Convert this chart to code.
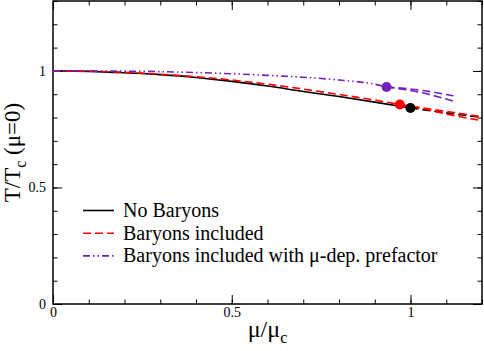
<!DOCTYPE html>
<html>
<head>
<meta charset="utf-8">
<script src="https://cdn.jsdelivr.net/npm/d3@7"></script>
<style>
  body { margin: 0; background: #fff; }
</style>
</head>
<body>
<svg id="chart" width="484" height="351"></svg>
<script>
// curve values: [mu/mu_c, T/T_c(mu=0)]
const noBaryons = [[0, 1.0], [0.1, 0.998], [0.2, 0.992], [0.3, 0.984], [0.4, 0.972], [0.5, 0.955],
  [0.6, 0.935], [0.7, 0.912], [0.8, 0.89], [0.9, 0.866], [1.0, 0.841]];
const noBaryonsTail = [[1.0, 0.841], [1.1, 0.82], [1.2, 0.80]];

const baryons = [[0, 1.0], [0.1, 0.999], [0.2, 0.994], [0.3, 0.986], [0.4, 0.975], [0.5, 0.961],
  [0.6, 0.943], [0.7, 0.922], [0.8, 0.899], [0.9, 0.875], [0.97, 0.856]];
const baryonsTailUpper = [[0.97, 0.856], [1.1, 0.826], [1.2, 0.803]];
const baryonsTailLower = [[0.97, 0.856], [1.03, 0.84], [1.1, 0.815], [1.2, 0.787]];

const prefactor = [[0, 1.0], [0.1, 1.0], [0.2, 0.999], [0.3, 0.997], [0.4, 0.993], [0.5, 0.988],
  [0.6, 0.981], [0.7, 0.973], [0.8, 0.961], [0.9, 0.943], [0.933, 0.931]];
const prefactorTailUpper = [[0.933, 0.931], [1.03, 0.917], [1.12, 0.893]];
const prefactorTailLower = [[0.933, 0.931], [1.03, 0.907], [1.12, 0.870]];

const endPoints = [
  { mu: 1.0, t: 0.841, color: "#000000" },
  { mu: 0.97, t: 0.856, color: "#ff0000" },
  { mu: 0.933, t: 0.931, color: "#7221bc" }
];

const legendLabels = ["No Baryons", "Baryons included", "Baryons included with \u03bc-dep. prefactor"];
const xTicks = [0, 0.5, 1];
const yTicks = [0, 0.5, 1];

const d3s = window.d3;
const serif = '"Liberation Serif", "Times New Roman", serif';
const margin = { top: 1, right: 2, bottom: 47, left: 53 },
  width = 484, height = 351;

const x = d3s.scaleLinear().domain([0, 1.2]).range([margin.left, width - margin.right]);
const y = d3s.scaleLinear().domain([0, 1.3]).range([height - margin.bottom, margin.top]);

const svg = d3s.select("#chart");
const fmt = d => d === 0.5 ? "0.5" : d3s.format("d")(d);
const minorX = d3s.range(0, 1.21, 0.1), minorY = d3s.range(0, 1.31, 0.1);

function styleAxis(g) {
  g.attr("font-family", null).attr("font-size", null);
  g.select(".domain").remove();
  g.selectAll("line").attr("stroke", "#000").attr("stroke-width", 1);
  g.selectAll("text").style("font-family", serif).style("font-size", "14px").attr("fill", "#000");
}

// bottom / top
svg.append("g").attr("transform", `translate(0,${y(0)})`)
  .call(d3s.axisBottom(x).tickValues(minorX).tickSize(-4.5).tickFormat(""))
  .call(styleAxis);
svg.append("g").attr("transform", `translate(0,${y(0)})`)
  .call(d3s.axisBottom(x).tickValues(xTicks).tickSize(-9).tickPadding(3).tickFormat(fmt))
  .call(styleAxis);
svg.append("g").attr("transform", `translate(0,${y(1.3)})`)
  .call(d3s.axisTop(x).tickValues(minorX).tickSize(-4.5).tickFormat(""))
  .call(styleAxis);
svg.append("g").attr("transform", `translate(0,${y(1.3)})`)
  .call(d3s.axisTop(x).tickValues(xTicks).tickSize(-9).tickFormat(""))
  .call(styleAxis);
// left / right
svg.append("g").attr("transform", `translate(${x(0)},0)`)
  .call(d3s.axisLeft(y).tickValues(minorY).tickSize(-4.5).tickFormat(""))
  .call(styleAxis);
svg.append("g").attr("transform", `translate(${x(0)},0)`)
  .call(d3s.axisLeft(y).tickValues(yTicks).tickSize(-9).tickPadding(7).tickFormat(fmt))
  .call(styleAxis);
svg.append("g").attr("transform", `translate(${x(1.2)},0)`)
  .call(d3s.axisRight(y).tickValues(minorY).tickSize(-4.5).tickFormat(""))
  .call(styleAxis);
svg.append("g").attr("transform", `translate(${x(1.2)},0)`)
  .call(d3s.axisRight(y).tickValues(yTicks).tickSize(-9).tickFormat(""))
  .call(styleAxis);

svg.append("rect")
  .attr("x", x(0)).attr("y", y(1.3))
  .attr("width", x(1.2) - x(0)).attr("height", y(0) - y(1.3))
  .attr("fill", "none").attr("stroke", "#000").attr("stroke-width", 1.5);

const line = d3s.line().x(d => x(d[0])).y(d => y(d[1])).curve(d3s.curveMonotoneX);

const dash = "8,4", dashDot = "7,3,1.5,3,1.5,3";
const curves = [
  { data: noBaryons, color: "#000", dash: null },
  { data: noBaryonsTail, color: "#000", dash: dash },
  { data: baryons, color: "#ff0000", dash: dash },
  { data: baryonsTailUpper, color: "#ff0000", dash: dash },
  { data: baryonsTailLower, color: "#ff0000", dash: dash },
  { data: prefactor, color: "#7221bc", dash: dashDot },
  { data: prefactorTailUpper, color: "#7221bc", dash: dash },
  { data: prefactorTailLower, color: "#7221bc", dash: dash }
];

svg.append("g").selectAll("path").data(curves).join("path")
  .attr("d", d => line(d.data))
  .attr("fill", "none")
  .attr("stroke", d => d.color)
  .attr("stroke-width", 1.6)
  .attr("stroke-dasharray", d => d.dash);

svg.append("g").selectAll("circle").data(endPoints).join("circle")
  .attr("cx", d => x(d.mu)).attr("cy", d => y(d.t))
  .attr("r", 5).attr("fill", d => d.color);

// legend
const legend = svg.append("g");
const legendStyles = [
  { color: "#000", dash: null },
  { color: "#ff0000", dash: dash },
  { color: "#7221bc", dash: dashDot }
];
legendLabels.forEach((label, i) => {
  const ly = 210.5 + i * 22.7;
  legend.append("line")
    .attr("x1", 83).attr("x2", 114).attr("y1", ly).attr("y2", ly)
    .attr("stroke", legendStyles[i].color).attr("stroke-width", 1.6)
    .attr("stroke-dasharray", legendStyles[i].dash);
  legend.append("text")
    .attr("x", 123).attr("y", ly + 6.5)
    .style("font-family", serif)
    .style("font-size", "20px")
    .text(label);
});

// axis titles
const xt = svg.append("text")
  .attr("x", x(0.6)).attr("y", 337)
  .attr("text-anchor", "middle")
  .style("font-family", serif)
  .style("font-size", "24px");
xt.append("tspan").text("\u03bc/\u03bc");
xt.append("tspan").attr("dy", 6).style("font-size", "16px").text("c");

const yt = svg.append("text")
  .attr("transform", `translate(20,${y(0.65)}) rotate(-90)`)
  .attr("text-anchor", "middle")
  .style("font-family", serif)
  .style("font-size", "23px");
yt.append("tspan").text("T/T");
yt.append("tspan").attr("dy", 6).style("font-size", "16px").text("c");
yt.append("tspan").attr("dy", -6).text(" (\u03bc=0)");
</script>
</body>
</html>
